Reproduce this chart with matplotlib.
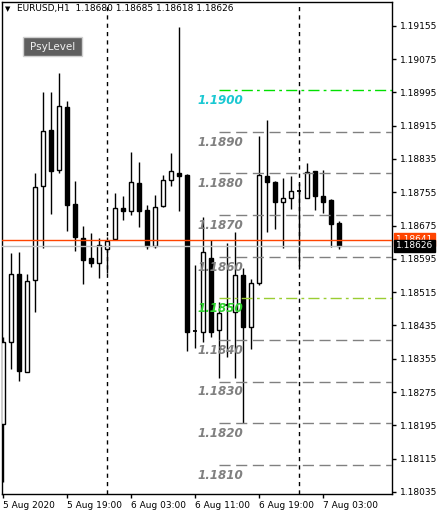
import matplotlib
matplotlib.use('Agg')
import matplotlib.pyplot as plt
from matplotlib.patches import Rectangle
from matplotlib.transforms import blended_transform_factory

W, H = 438, 515

# ---------------- data ----------------
opens  = [1.18198, 1.18396, 1.18558, 1.18324, 1.18544, 1.18771, 1.18904, 1.18808,
          1.18959, 1.18727, 1.18645, 1.18597, 1.18584, 1.18618, 1.18643, 1.18716,
          1.18711, 1.18777, 1.18712, 1.18627, 1.18721, 1.18784, 1.18801, 1.18796,
          1.18422, 1.18419, 1.18596, 1.18424, 1.18484, 1.18467, 1.18555, 1.18432,
          1.18536, 1.18794, 1.18780, 1.18731, 1.18741, 1.18758, 1.18741, 1.18805,
          1.18746, 1.18736, 1.18680]
highs  = [1.18408, 1.18610, 1.18611, 1.18558, 1.18801, 1.18996, 1.18996, 1.19042,
          1.18974, 1.18782, 1.18674, 1.18658, 1.18644, 1.18648, 1.18754, 1.18746,
          1.18852, 1.18828, 1.18724, 1.18748, 1.18796, 1.18849, 1.19153, 1.18799,
          1.18580, 1.18695, 1.18640, 1.18491, 1.18632, 1.18659, 1.18572, 1.18546,
          1.18890, 1.18929, 1.18782, 1.18789, 1.18794, 1.18777, 1.18826, 1.18806,
          1.18808, 1.18738, 1.18685]
lows   = [1.18060, 1.18330, 1.18302, 1.18322, 1.18468, 1.18622, 1.18703, 1.18800,
          1.18663, 1.18614, 1.18535, 1.18576, 1.18548, 1.18560, 1.18640, 1.18688,
          1.18700, 1.18672, 1.18619, 1.18622, 1.18720, 1.18771, 1.18711, 1.18374,
          1.18380, 1.18396, 1.18408, 1.18308, 1.18360, 1.18308, 1.18200, 1.18378,
          1.18533, 1.18660, 1.18666, 1.18620, 1.18714, 1.18578, 1.18741, 1.18712,
          1.18706, 1.18624, 1.18618]
closes = [1.18395, 1.18558, 1.18326, 1.18541, 1.18768, 1.18902, 1.18807, 1.18961,
          1.18725, 1.18648, 1.18593, 1.18584, 1.18628, 1.18638, 1.18716, 1.18711,
          1.18779, 1.18711, 1.18627, 1.18719, 1.18784, 1.18805, 1.18795, 1.18420,
          1.18419, 1.18612, 1.18420, 1.18466, 1.18484, 1.18555, 1.18431, 1.18536,
          1.18796, 1.18780, 1.18732, 1.18741, 1.18758, 1.18758, 1.18803, 1.18747,
          1.18732, 1.18678, 1.18626]

xtick_bars   = [0, 8, 16, 24, 32, 40]
xtick_labels = ["5 Aug 2020", "5 Aug 19:00", "6 Aug 03:00", "6 Aug 11:00",
                "6 Aug 19:00", "7 Aug 03:00"]
day_separators = [13, 37]

ytick_values = [1.19155, 1.19075, 1.18995, 1.18915, 1.18835, 1.18755, 1.18675,
                1.18595, 1.18515, 1.18435, 1.18355, 1.18275, 1.18195, 1.18115,
                1.18035]

levels       = [1.1900, 1.1890, 1.1880, 1.1870, 1.1860, 1.1850, 1.1840, 1.1830,
                1.1820, 1.1810]
level_labels = ["1.1900", "1.1890", "1.1880", "1.1870", "1.1860", "1.1850",
                "1.1840", "1.1830", "1.1820", "1.1810"]
level_start_bar = 27
label_bar = 24.25

ask_price = 1.18641
bid_price = 1.18626
header = "EURUSD,H1  1.18680 1.18685 1.18618 1.18626"

# ---------------- figure ----------------
fig = plt.figure(figsize=(W / 100, H / 100), dpi=100)
fig.patch.set_facecolor('white')
ax = fig.add_axes([2 / W, (H - 494) / H, 390 / W, 492 / H])
ax.set_facecolor('white')
ax.set_xlim(-0.125, 48.625)
ax.set_ylim(1.18030, 1.19212)

# separators
for s in day_separators:
    ax.axvline(s, color='black', lw=1, ls=(0, (3, 3)), zorder=1)

# candles
bw = 0.5
for i, (o, h, l, c) in enumerate(zip(opens, highs, lows, closes)):
    ax.vlines(i, l, h, colors='black', lw=1, zorder=2)
    if abs(c - o) < 0.00003:
        ax.hlines(o, i - bw / 2, i + bw / 2, colors='black', lw=1.3, zorder=3)
    elif c > o:
        ax.add_patch(Rectangle((i - bw / 2, o), bw, c - o, facecolor='white',
                               edgecolor='black', lw=1, zorder=3))
    else:
        ax.add_patch(Rectangle((i - bw / 2, c), bw, o - c, facecolor='black',
                               edgecolor='black', lw=1, zorder=3))

# level lines and labels (chart objects drawn in front of the candles)
for lv, lb in zip(levels, level_labels):
    if lb == "1.1900":
        lc, tc, ls = '#00e000', '#19c8d2', (0, (8, 3, 2, 3))
    elif lb == "1.1850":
        lc, tc, ls = '#9acd32', '#2ed12e', (0, (8, 3, 2, 3))
    else:
        lc, tc, ls = '#808080', '#808080', (0, (8, 4))
    ax.hlines(lv, level_start_bar, 48.625, colors=lc, lw=1, linestyles=[ls], zorder=5)
    ax.annotate(lb, xy=(label_bar, lv), xytext=(0, -7.4), textcoords='offset points',
                ha='left', va='center', fontsize=8.6, fontweight='bold',
                fontstyle='italic', color=tc, zorder=6)

# bid / ask lines
ax.axhline(ask_price, color='#ff4500', lw=1, zorder=4)
ax.axhline(bid_price, color='#c0c0c0', lw=1, zorder=4)

# axes styling
for sp in ax.spines.values():
    sp.set_color('black')
    sp.set_linewidth(1)
ax.yaxis.tick_right()
ax.set_yticks(ytick_values)
ax.set_yticklabels([f"{v:.5f}" for v in ytick_values])
ax.tick_params(axis='y', direction='out', length=3, width=1, pad=2.5,
               labelsize=6.5, colors='black')
ax.set_xticks(xtick_bars)
ax.set_xticklabels(xtick_labels)
ax.tick_params(axis='x', direction='out', length=3, width=1, pad=2,
               labelsize=6.5, colors='black')
for t in ax.get_xticklabels():
    t.set_horizontalalignment('left')

# price boxes on the right axis
tr = blended_transform_factory(ax.transAxes, ax.transData)
ax.text(1.01, ask_price, f"{ask_price:.5f}", transform=tr, fontsize=6.5,
        color='white', ha='left', va='center', clip_on=False, zorder=7,
        bbox=dict(boxstyle='square,pad=0.2', fc='#ff4500', ec='#ff4500'))
ax.text(1.01, bid_price, f"{bid_price:.5f}", transform=tr, fontsize=6.5,
        color='white', ha='left', va='center', clip_on=False, zorder=8,
        bbox=dict(boxstyle='square,pad=0.2', fc='black', ec='black'))

# header
fig.text(5 / W, 1 - 9 / H, "\u25bc", fontsize=5, color='black', ha='left', va='center')
fig.text(17 / W, 1 - 9 / H, header, fontsize=6.5, color='black', ha='left', va='center')

# PsyLevel button
fig.patches.append(Rectangle((23 / W, 1 - 56 / H), 59 / W, 19 / H,
                             transform=fig.transFigure, facecolor='#5f5f5f',
                             edgecolor='#d0d0d0', lw=1, zorder=10))
fig.text(52.5 / W, 1 - 46.5 / H, "PsyLevel", fontsize=7.5, color='#f0f0f0',
         ha='center', va='center', zorder=11)

fig.savefig('out.png', dpi=100, facecolor='white')
